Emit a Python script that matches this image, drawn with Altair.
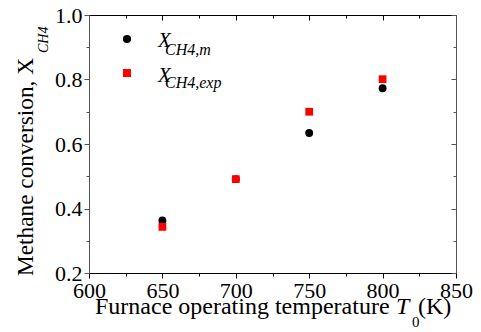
import altair as alt
import pandas as pd

# ---- data ----
temps = [650, 700, 750, 800]
x_model = [0.363, 0.491, 0.634, 0.773]
x_exp = [0.343, 0.491, 0.700, 0.801]

x_major = [600, 650, 700, 750, 800, 850]
x_minor = [625, 675, 725, 775, 825]
y_major = [0.2, 0.4, 0.6, 0.8, 1.0]
y_minor = [0.3, 0.5, 0.7, 0.9]

legend_main = ["X", "X"]
legend_sub = ["CH4,m", "CH4,exp"]
y_title = ["Methane conversion, X", "CH4"]
x_title = ["Furnace operating temperature", "T", "0", "(K)"]

W, H = 367, 258
FONT = "Liberation Serif"

df = pd.DataFrame({"T": temps, "m": x_model, "e": x_exp})

xs = alt.Scale(domain=[600, 850], nice=False, zero=False)
ys = alt.Scale(domain=[0.2, 1.0], nice=False, zero=False)

XC = "black"
YC = "#555555"


def ax(orient, values, tick, labels, domain, color, offset=0, fmt=None, **kw):
    d = dict(orient=orient, values=values, title=None, grid=False,
             tickSize=tick, labels=labels, domain=domain, offset=offset,
             domainColor=color, tickColor=color, tickWidth=1, domainWidth=1,
             labelFont=FONT, labelFontSize=22, labelColor="black",
             labelOverlap=False, labelFlush=False)
    if fmt:
        d["format"] = fmt
    d.update(kw)
    return alt.Axis(**d)


base = alt.Chart(df)

circles = base.mark_point(shape="circle", filled=True, size=62, color="black", opacity=1).encode(
    x=alt.X("T:Q", scale=xs, axis=ax("bottom", x_major, 5, True, True, XC, fmt="d", labelPadding=2)),
    y=alt.Y("m:Q", scale=ys, axis=ax("left", y_major, 5, True, True, YC, fmt=".1f", labelPadding=2)),
)

squares = base.mark_point(shape="square", filled=True, size=60, color="#ff0000", opacity=1).encode(
    x=alt.X("T:Q", scale=xs, axis=None),
    y=alt.Y("e:Q", scale=ys, axis=None),
)

minor_bl = base.mark_point(opacity=0).encode(
    x=alt.X("T:Q", scale=xs, axis=ax("bottom", x_minor, 3, False, False, XC)),
    y=alt.Y("m:Q", scale=ys, axis=ax("left", y_minor, 3, False, False, YC)),
)

major_tr = base.mark_point(opacity=0).encode(
    x=alt.X("T:Q", scale=xs, axis=ax("bottom", x_major, 5, False, True, XC, offset=-H)),
    y=alt.Y("m:Q", scale=ys, axis=ax("left", y_major, 5, False, True, YC, offset=-W)),
)
minor_tr = base.mark_point(opacity=0).encode(
    x=alt.X("T:Q", scale=xs, axis=ax("bottom", x_minor, 3, False, False, XC, offset=-H)),
    y=alt.Y("m:Q", scale=ys, axis=ax("left", y_minor, 3, False, False, YC, offset=-W)),
)


def txt(s, x, y, size, italic=False, angle=0):
    kw = dict(text=s, font=FONT, fontSize=size, align="left", baseline="alphabetic", color="black")
    if italic:
        kw["fontStyle"] = "italic"
    if angle:
        kw["angle"] = angle
    return alt.Chart(pd.DataFrame({"k": [s]})).mark_text(**kw).encode(
        x=alt.value(x), y=alt.value(y)
    )


one = pd.DataFrame({"k": [legend_sub[0]]})
leg_c = alt.Chart(one).mark_point(shape="circle", filled=True, size=66, color="black", opacity=1).encode(
    x=alt.value(38), y=alt.value(24))
leg_s = alt.Chart(one).mark_point(shape="square", filled=True, size=64, color="#ff0000", opacity=1).encode(
    x=alt.value(38), y=alt.value(58))

texts = [
    txt(legend_main[0], 69, 31.7, 21, italic=True),
    txt(legend_sub[0], 76, 40, 16, italic=True),
    txt(legend_main[1], 69, 66.7, 21, italic=True),
    txt(legend_sub[1], 76, 73.3, 16, italic=True),
    txt(y_title[0], -56, 261, 23.3, angle=270),
    txt(y_title[1], -41, 38, 14, italic=True, angle=270),
    txt(x_title[0], 6, 299, 24),
    txt(x_title[1], 307, 299, 24, italic=True),
    txt(x_title[2], 323, 311.5, 15),
    txt(x_title[3], 329, 299, 24),
]

chart = alt.layer(circles, squares, minor_bl, major_tr, minor_tr, leg_c, leg_s, *texts).resolve_axis(
    x="independent", y="independent"
).properties(
    width=W, height=H,
    autosize=alt.AutoSizeParams(type="none"),
    padding={"left": 81, "top": 7, "right": 17, "bottom": 60},
).configure_view(stroke=None)

chart.save("out.html", embed_options={"renderer": "svg", "actions": False})
